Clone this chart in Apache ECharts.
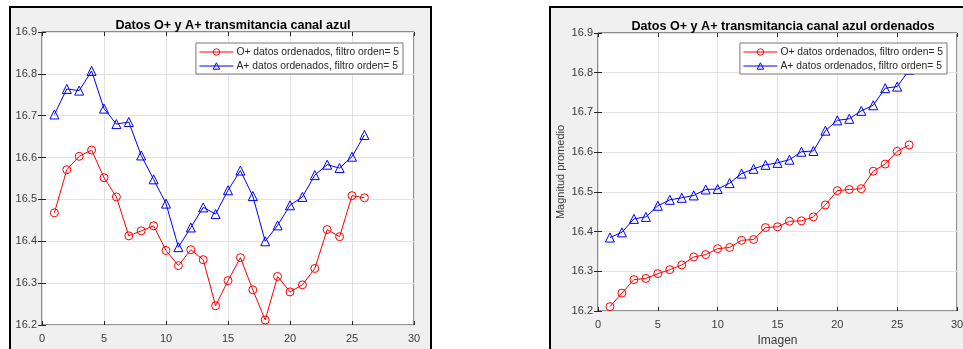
<!DOCTYPE html>
<html><head><meta charset="utf-8">
<script src="https://cdn.jsdelivr.net/npm/echarts@6/dist/echarts.min.js"></script>
<style>html,body{margin:0;padding:0;background:#fff}#c{width:963px;height:349px}</style>
</head><body><div id="c"></div>
<script>
const imagen = [1,2,3,4,5,6,7,8,9,10,11,12,13,14,15,16,17,18,19,20,21,22,23,24,25,26];
const oPlus = [16.468,16.571,16.603,16.618,16.552,16.506,16.413,16.425,16.437,16.378,16.342,16.380,16.356,16.246,16.306,16.361,16.284,16.212,16.316,16.279,16.296,16.335,16.428,16.411,16.509,16.504];
const aPlus = [16.703,16.764,16.760,16.807,16.717,16.680,16.685,16.605,16.548,16.490,16.386,16.433,16.481,16.465,16.522,16.569,16.508,16.400,16.438,16.486,16.506,16.558,16.583,16.575,16.602,16.654];
const oPlusSorted = [16.211,16.245,16.279,16.282,16.294,16.304,16.316,16.336,16.342,16.357,16.360,16.378,16.380,16.410,16.412,16.426,16.427,16.437,16.467,16.503,16.506,16.508,16.552,16.570,16.602,16.618];
const aPlusSorted = [16.385,16.398,16.432,16.437,16.465,16.480,16.485,16.491,16.506,16.507,16.522,16.546,16.558,16.568,16.573,16.581,16.601,16.603,16.654,16.680,16.684,16.704,16.718,16.761,16.765,16.807];
const xTicks = [0,5,10,15,20,25,30];
const yTicks = [16.2,16.3,16.4,16.5,16.6,16.7,16.8,16.9];
const titles = ['Datos O+ y A+ transmitancia canal azul','Datos O+ y A+ transmitancia canal azul ordenados'];
const seriesNames = ['O+ datos ordenados, filtro orden= 5','A+ datos ordenados, filtro orden= 5'];
const seriesColors = ['#ff0000','#0000ff'];
const yName = 'Magnitud promedio';
const xName = 'Imagen';

const FONT = 'Liberation Sans, Arial, Helvetica, sans-serif';
const TXT = '#262626';
const LBL = '#3a3a3a';
const CLEAR = 'rgba(255,255,255,0)';
const pairs = (ys) => ys.map((v,i)=>[imagen[i], v]);

function xAx(gi, pos, labels, name){
  return {type:'value', gridIndex:gi, position:pos, min:xTicks[0], max:xTicks[xTicks.length-1], interval:5,
    axisLine:{show:false}, axisTick:{show:true, inside:true, length:4, lineStyle:{color:TXT}},
    splitLine:{show:pos==='bottom', lineStyle:{color:'#e2e2e2', width:1}},
    axisLabel:{show:labels, color:LBL, fontSize:11, fontFamily:FONT, margin:8},
    name: name||'', nameLocation:'middle', nameGap:24, nameTextStyle:{color:LBL, fontSize:12, fontFamily:FONT}};
}
function yAx(gi, pos, labels, name){
  return {type:'value', gridIndex:gi, position:pos, min:yTicks[0], max:yTicks[yTicks.length-1], interval:0.1,
    axisLine:{show:false}, axisTick:{show:true, inside:true, length:4, lineStyle:{color:TXT}},
    splitLine:{show:pos==='left', lineStyle:{color:'#e2e2e2', width:1}},
    axisLabel:{show:labels, color:LBL, fontSize:11, fontFamily:FONT, margin:5, formatter:v=>v.toFixed(1)},
    name: name||'', nameLocation:'middle', nameGap:32, nameRotate:90, nameTextStyle:{color:LBL, fontSize:11, fontFamily:FONT}};
}
function ser(name, data, xi, yi, color, sym, size){
  return {name, type:'line', xAxisIndex:xi, yAxisIndex:yi, data, symbol:sym, symbolSize:size, showAllSymbol:true,
    lineStyle:{color, width:1}, itemStyle:{color:CLEAR, borderColor:color, borderWidth:1},
    emphasis:{disabled:true}, animation:false};
}
function legend(right){
  return {orient:'vertical', right, top:43, padding:[4,4,3,3], itemGap:4, itemWidth:34, itemHeight:8,
    backgroundColor:'#fff', borderColor:'#7a7a7a', borderWidth:1, borderRadius:0,
    textStyle:{color:TXT, fontSize:10.3, fontFamily:FONT, padding:[0,0,0,-2]},
    lineStyle:{width:1},
    itemStyle:{borderWidth:1},
    data:seriesNames.map((n,i)=>({name:n,
      itemStyle:{color:CLEAR, borderColor:seriesColors[i], borderWidth:1},
      lineStyle:{color:seriesColors[i], width:1}})),
    selectedMode:false, z:10};
}

const chart = echarts.init(document.getElementById('c'), null, {renderer:'canvas'});
chart.setOption({
  animation:false,
  backgroundColor:'#fff',
  graphic:[
    {type:'rect', z:-100, shape:{x:10,y:7,width:421,height:360}, style:{fill:'#f0f0f0', stroke:'#000', lineWidth:2}},
    {type:'rect', z:-100, shape:{x:550,y:7,width:430,height:360}, style:{fill:'#f0f0f0', stroke:'#000', lineWidth:2}}
  ],
  title:[
    {text:titles[0], left:228, top:14, textAlign:'center', textStyle:{fontSize:12.6, fontWeight:'bold', color:'#000', fontFamily:FONT}},
    {text:titles[1], left:778, top:15, textAlign:'center', textStyle:{fontSize:12.6, fontWeight:'bold', color:'#000', fontFamily:FONT}}
  ],
  grid:[
    {left:42, right:549, top:32, bottom:24, show:true, backgroundColor:'#fff', borderColor:TXT, borderWidth:1, containLabel:false, outerBoundsMode:'none'},
    {left:598, right:6, top:33, bottom:38, show:true, backgroundColor:'#fff', borderColor:TXT, borderWidth:1, containLabel:false, outerBoundsMode:'none'}
  ],
  xAxis:[xAx(0,'bottom',true), xAx(0,'top',false), xAx(1,'bottom',true,xName), xAx(1,'top',false)],
  yAxis:[yAx(0,'left',true), yAx(0,'right',false), yAx(1,'left',true,yName), yAx(1,'right',false)],
  legend:[legend(560), legend(16)],
  series:[
    ser(seriesNames[0], pairs(oPlus), 0, 0, seriesColors[0], 'circle', 8),
    ser(seriesNames[1], pairs(aPlus), 0, 0, seriesColors[1], 'triangle', 9),
    ser(seriesNames[0], pairs(oPlusSorted), 2, 2, seriesColors[0], 'circle', 8),
    ser(seriesNames[1], pairs(aPlusSorted), 2, 2, seriesColors[1], 'triangle', 9)
  ]
});
</script></body></html>
